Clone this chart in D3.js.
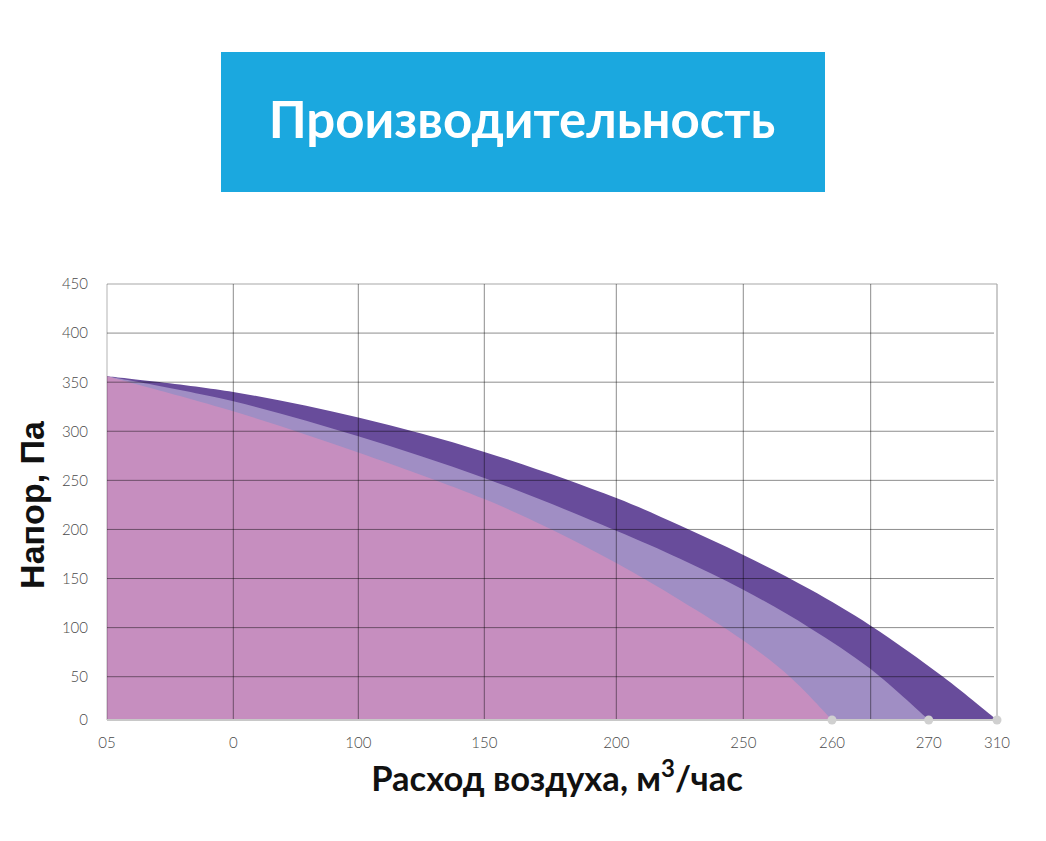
<!DOCTYPE html>
<html><head><meta charset="utf-8">
<script src="https://cdn.jsdelivr.net/npm/d3@7"></script>
<style>html,body{margin:0;padding:0;background:#fff;}svg{display:block;}</style>
</head><body>
<script>
// ---- data ----
const titleText = "Производительность";
const xTitle = "Расход воздуха, м";
const xTitleSup = "3";
const xTitleEnd = "/час";
const yTitle = "Напор, Па";
const yTicks = [0, 50, 100, 150, 200, 250, 300, 350, 400, 450];
const xTickValues = [0, 50, 100, 150, 200, 250, 260, 270, 310];
const xTickLabels = ["05", "0", "100", "150", "200", "250", "260", "270", "310"];
const xGridValues = [0, 50, 100, 150, 200, 250, 264, 310];
const flow310 = [0, 50, 100, 150, 200, 225.1, 250, 257.5, 264, 278.4, 310];
const pressure310 = [356, 340, 314, 279, 232, 204, 174, 139, 102, 50, 0];
const flow270 = [0, 50, 100, 150, 200, 225.1, 250, 257.5, 264, 270];
const pressure270 = [356, 330.5, 295, 252.5, 198.7, 170.2, 138.6, 99.7, 57.8, 0];
const flow260 = [0, 50, 100, 150, 174.9, 200, 225.1, 250, 255.3, 260];
const pressure260 = [356, 320.3, 278.4, 230.9, 200.6, 165.7, 127.9, 86.9, 49.4, 0];
const seriesColors = ["#684c9b", "#a08ec4", "#c68ebf"];

// ---- layout ----
const W = 1046, H = 841;
const L = 107, R = 997, T = 284, B = 720;
const svg = d3.select("body").append("svg").attr("width", W).attr("height", H);

// title box
svg.append("rect").attr("x", 221).attr("y", 52).attr("width", 604).attr("height", 140).attr("fill", "#1ba8df");
svg.append("text").attr("x", 522).attr("y", 138).attr("text-anchor", "middle")
  .attr("font-family", "Lato, 'Open Sans', sans-serif").attr("font-weight", 700)
  .attr("font-size", 51).attr("fill", "#fff").text(titleText);

// scales (axis is non-uniform in the original)
const xFrac = [0, 0.14191, 0.28236, 0.42393, 0.57225, 0.71494, 0.81461, 0.92326, 1];
const x = d3.scaleLinear().domain(xTickValues).range(xFrac.map(f => L + f * (R - L)));
const y = d3.scaleLinear().domain([0, 50, 450]).range([B, B - 43.3, T]);

const series = [
  flow310.map((q, i) => ({q, p: pressure310[i]})),
  flow270.map((q, i) => ({q, p: pressure270[i]})),
  flow260.map((q, i) => ({q, p: pressure260[i]}))
];
svg.append("clipPath").attr("id", "plotclip").append("rect")
  .attr("x", L).attr("y", T).attr("width", R - L).attr("height", B - T);
const area = d3.area().x(d => x(d.q)).y0(y(0)).y1(d => y(d.p)).curve(d3.curveCatmullRom.alpha(0.5));
svg.append("g").attr("clip-path", "url(#plotclip)").selectAll("path").data(series).join("path")
  .attr("d", area).attr("fill", (d, i) => seriesColors[i]);

// grid
const g = svg.append("g");
g.selectAll("line.h").data(yTicks.filter(v => v > 0 && v < 450)).join("line")
  .attr("x1", L).attr("x2", R - 3).attr("y1", d => y(d)).attr("y2", d => y(d))
  .attr("stroke", "#000").attr("stroke-opacity", 0.45).attr("stroke-width", 1);
g.append("line").attr("x1", L).attr("x2", R).attr("y1", y(450)).attr("y2", y(450))
  .attr("stroke", "#c4c4c4").attr("stroke-width", 1.5);
g.selectAll("line.v").data(xGridValues.filter(v => v > 0 && v < 310)).join("line")
  .attr("x1", d => x(d)).attr("x2", d => x(d)).attr("y1", T).attr("y2", B)
  .attr("stroke", "#000").attr("stroke-opacity", 0.45).attr("stroke-width", 1);
g.append("line").attr("x1", x(0)).attr("x2", x(0)).attr("y1", T).attr("y2", B)
  .attr("stroke", "#000").attr("stroke-opacity", 0.3).attr("stroke-width", 1);
g.append("line").attr("x1", x(310)).attr("x2", x(310)).attr("y1", T).attr("y2", B)
  .attr("stroke", "#a8a8a8").attr("stroke-width", 1.2);
g.append("line").attr("x1", L).attr("x2", R).attr("y1", y(0)).attr("y2", y(0))
  .attr("stroke", "#c8c8c8").attr("stroke-width", 2);

// end dots
svg.append("g").selectAll("circle").data(series).join("circle")
  .attr("cx", d => x(d[d.length - 1].q)).attr("cy", y(0)).attr("r", 4.5).attr("fill", "#d0d0d0");

// tick labels
const tickFont = "Lato, 'Open Sans', sans-serif";
svg.append("g").selectAll("text").data(yTicks).join("text")
  .attr("x", 88).attr("y", d => y(d)).attr("dy", "0.36em").attr("text-anchor", "end")
  .attr("font-family", tickFont).attr("font-weight", 300).attr("font-size", 15).attr("fill", "#4a4a4a")
  .text(d => d);
svg.append("g").selectAll("text").data(xTickValues).join("text")
  .attr("x", d => x(d)).attr("y", B + 23).attr("dy", "0.36em").attr("text-anchor", "middle")
  .attr("font-family", tickFont).attr("font-weight", 300).attr("font-size", 15).attr("fill", "#4a4a4a")
  .text((d, i) => xTickLabels[i]);

// axis titles
const xt = svg.append("text").attr("x", 557).attr("y", 791).attr("text-anchor", "middle")
  .attr("font-family", "Lato, 'Open Sans', sans-serif").attr("font-weight", 700)
  .attr("font-size", 34.5).attr("fill", "#111");
xt.append("tspan").text(xTitle);
xt.append("tspan").attr("dy", -14).attr("font-size", 24).text(xTitleSup);
xt.append("tspan").attr("dy", 14).text(xTitleEnd);

svg.append("text").attr("transform", "translate(44,505) rotate(-90)").attr("text-anchor", "middle")
  .attr("font-family", "'Liberation Sans', Arial, sans-serif").attr("font-weight", 700)
  .attr("font-size", 34).attr("fill", "#111").text(yTitle);
</script>
</body></html>
